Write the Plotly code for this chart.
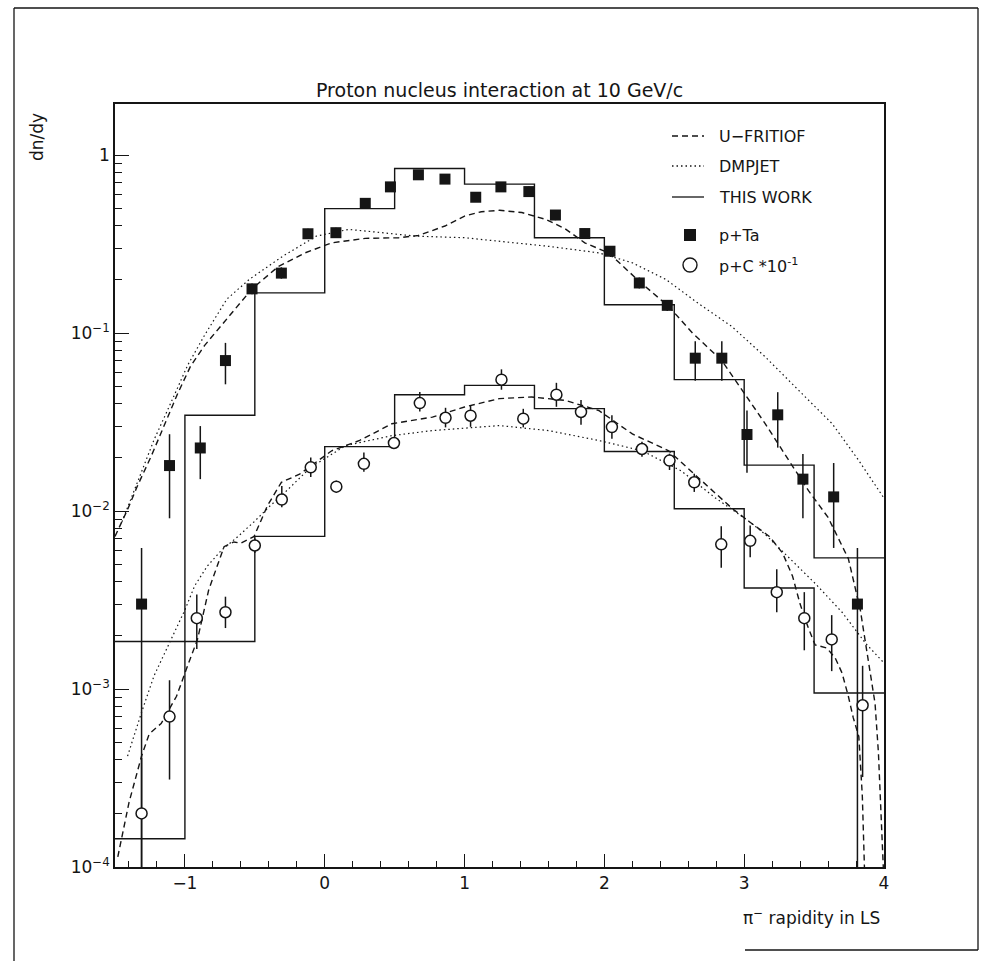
import plotly.graph_objects as go

# ---------------- data ----------------
ta_x = [-1.31, -1.11, -0.89, -0.71, -0.52, -0.31, -0.12, 0.08, 0.29, 0.47, 0.67, 0.86, 1.08, 1.26,
        1.46, 1.65, 1.86, 2.04, 2.25, 2.45, 2.65, 2.84, 3.02, 3.24, 3.42, 3.64, 3.81]
ta_y = [0.0030, 0.018, 0.0226, 0.070, 0.177, 0.217, 0.361, 0.366, 0.535, 0.662, 0.774, 0.732, 0.579, 0.662,
        0.623, 0.46, 0.362, 0.288, 0.191, 0.143, 0.0722, 0.0722, 0.0269, 0.0347, 0.0151, 0.012, 0.0030]
ta_hi = [0.0062, 0.027, 0.030, 0.088, 0.19, 0.234, 0.385, 0.39, 0.57, 0.70, 0.82, 0.78, 0.615, 0.70,
         0.665, 0.49, 0.385, 0.305, 0.205, 0.153, 0.090, 0.090, 0.0367, 0.0465, 0.0209, 0.0186, 0.0062]
ta_lo = [1e-6, 0.0091, 0.0151, 0.0515, 0.165, 0.202, 0.34, 0.345, 0.50, 0.625, 0.73, 0.69, 0.545, 0.625,
         0.585, 0.43, 0.34, 0.27, 0.178, 0.133, 0.054, 0.054, 0.0164, 0.0227, 0.0091, 0.0062, 1e-6]

c_x = [-1.31, -1.11, -0.915, -0.71, -0.50, -0.307, -0.10, 0.083, 0.28, 0.495, 0.68, 0.864, 1.043, 1.264,
       1.42, 1.657, 1.833, 2.054, 2.269, 2.466, 2.643, 2.836, 3.043, 3.233, 3.43, 3.626, 3.847]
c_y = [2.0e-4, 7.0e-4, 2.5e-3, 2.7e-3, 6.4e-3, 0.0116, 0.0176, 0.0137, 0.0184, 0.0241, 0.0404, 0.0334,
       0.0343, 0.0547, 0.033, 0.045, 0.036, 0.0296, 0.0223, 0.0192, 0.0145, 0.0065, 0.0068, 0.0035,
       0.0025, 0.0019, 8.1e-4]
c_hi = [4.1e-4, 1.12e-3, 3.4e-3, 3.3e-3, 7.0e-3, 0.0138, 0.0200, 0.0148, 0.0213, 0.026, 0.0466, 0.038,
        0.039, 0.0625, 0.0375, 0.0525, 0.042, 0.0345, 0.0245, 0.021, 0.0162, 0.0082, 0.0083, 0.0047,
        0.0035, 0.0026, 1.35e-3]
c_lo = [1e-6, 3.1e-4, 1.68e-3, 2.2e-3, 5.8e-3, 0.0105, 0.0155, 0.0127, 0.0166, 0.0223, 0.0362, 0.0295,
        0.0297, 0.048, 0.0295, 0.0385, 0.0305, 0.0255, 0.0202, 0.017, 0.0128, 0.0048, 0.0055, 0.0027,
        0.00165, 0.00126, 3.2e-4]

hist_edges = [-1.5, -1.0, -0.5, 0.0, 0.5, 1.0, 1.5, 2.0, 2.5, 3.0, 3.5, 4.0]
ta_hist = [1.85e-3, 0.0345, 0.168, 0.50, 0.84, 0.686, 0.343, 0.144, 0.0547, 0.0181, 5.45e-3]
c_hist = [1.44e-4, 1.85e-3, 7.2e-3, 0.023, 0.045, 0.0508, 0.0376, 0.0216, 0.0103, 3.69e-3, 9.5e-4]

fr_ta_x = [-1.5, -1.41, -1.34, -1.24, -1.15, -1.05, -0.96, -0.86, -0.72, -0.52, -0.33, -0.14, 0.05, 0.29,
           0.53, 0.67, 0.86, 1.0, 1.12, 1.25, 1.41, 1.58, 1.72, 1.86, 2.03, 2.25, 2.46, 2.63, 2.84, 3.0,
           3.15, 3.32, 3.46, 3.60, 3.745, 3.83, 3.90, 3.936, 3.96, 3.983, 3.995]
fr_ta_y = [0.0072, 0.0102, 0.0138, 0.0204, 0.030, 0.046, 0.065, 0.085, 0.115, 0.177, 0.237, 0.282, 0.321,
           0.34, 0.343, 0.353, 0.399, 0.454, 0.48, 0.489, 0.475, 0.435, 0.385, 0.321, 0.282, 0.195, 0.141,
           0.10, 0.070, 0.0456, 0.031, 0.0192, 0.013, 0.0092, 0.0054, 0.0028, 0.0013, 8.3e-4, 4.4e-4,
           1.5e-4, 1.0e-4]

dm_ta_x = [-1.45, -1.31, -1.22, -1.10, -0.98, -0.86, -0.70, -0.54, -0.30, -0.06, 0.17, 0.41, 0.65, 1.0,
           1.25, 1.6, 1.96, 2.2, 2.44, 2.67, 2.91, 3.15, 3.39, 3.63, 3.82, 4.0]
dm_ta_y = [0.0087, 0.0165, 0.0252, 0.0406, 0.066, 0.097, 0.155, 0.2, 0.27, 0.35, 0.382, 0.366, 0.35,
           0.343, 0.328, 0.307, 0.282, 0.248, 0.2, 0.147, 0.109, 0.0735, 0.0476, 0.0309, 0.0192, 0.0118]

fr_c_x = [-1.48, -1.40, -1.31, -1.255, -1.17, -1.06, -0.99, -0.91, -0.83, -0.755, -0.72, -0.65, -0.60,
          -0.505, -0.41, -0.31, -0.18, 0.05, 0.25, 0.48, 0.77, 1.0, 1.25, 1.48, 1.72, 1.96, 2.2, 2.46,
          2.67, 2.91, 3.037, 3.18, 3.275, 3.346, 3.40, 3.45, 3.507, 3.59, 3.65, 3.70, 3.745, 3.78, 3.82,
          3.845, 3.86]
fr_c_y = [1.14e-4, 2.3e-4, 4.2e-4, 5.6e-4, 6.4e-4, 9.1e-4, 1.29e-3, 1.9e-3, 3.6e-3, 5.3e-3, 6.3e-3,
          6.7e-3, 6.6e-3, 7.2e-3, 0.0107, 0.0145, 0.0161, 0.0218, 0.0249, 0.0309, 0.0337, 0.0384, 0.0428,
          0.0437, 0.0418, 0.0367, 0.0271, 0.0218, 0.0154, 0.0104, 0.0087, 0.0072, 0.0058, 0.0043, 0.0030,
          0.0023, 0.00177, 0.0017, 0.0015, 0.00123, 9.1e-4, 6.9e-4, 5.4e-4, 2.5e-4, 1.0e-4]

dm_c_x = [-1.41, -1.31, -1.22, -1.10, -1.0, -0.93, -0.84, -0.74, -0.62, -0.505, -0.39, -0.29, -0.10,
          0.15, 0.48, 0.77, 1.25, 1.6, 1.96, 2.27, 2.55, 2.79, 3.03, 3.15, 3.32, 3.51, 3.70, 3.87, 4.0]
dm_c_y = [4.2e-4, 7.4e-4, 1.19e-3, 1.9e-3, 2.78e-3, 3.8e-3, 4.9e-3, 6.0e-3, 7.2e-3, 8.7e-3, 0.0107,
          0.0126, 0.0176, 0.0233, 0.0265, 0.0283, 0.0302, 0.0283, 0.0249, 0.0218, 0.0168, 0.0119, 0.0088,
          0.0074, 0.0055, 0.0039, 0.0027, 0.0018, 0.0014]

x_tickvals = [-1, 0, 1, 2, 3, 4]
y_tickvals = [1e-4, 1e-3, 1e-2, 1e-1, 1]
y_ticktext = ["10<sup>−4</sup>", "10<sup>−3</sup>", "10<sup>−2</sup>", "10<sup>−1</sup>", "1"]

title_text = "Proton nucleus interaction at 10 GeV/c"
xlabel = "π<sup>−</sup> rapidity in LS"
ylabel = "dn/dy"
legend_lines = [("U−FRITIOF", "dash"), ("DMPJET", "dot"), ("THIS WORK", "solid")]
legend_marks = [("p+Ta", "square"), ("p+C *10<sup>-1</sup>", "circle")]

# ---------------- layout geometry ----------------
W, H = 984, 961
L, R, T, B = 115, 884, 104, 867
FONT = "DejaVu Sans"
INK = "#151515"


def px(x):
    return (x - L) / (R - L)


def py(y):
    return (B - y) / (B - T)


def err(vals, hi, lo):
    up = [h - v for v, h in zip(vals, hi)]
    dn = [v - l for v, l in zip(vals, lo)]
    return up, dn


fig = go.Figure()

dash_style = "6px,4px"
dot_style = "1.5px,3px"

for xs, ys in [(fr_ta_x, fr_ta_y), (fr_c_x, fr_c_y)]:
    fig.add_trace(go.Scatter(x=xs, y=ys, mode="lines", line=dict(color=INK, width=1.4, dash=dash_style),
                             showlegend=False, hoverinfo="skip"))
for xs, ys in [(dm_ta_x, dm_ta_y), (dm_c_x, dm_c_y)]:
    fig.add_trace(go.Scatter(x=xs, y=ys, mode="lines", line=dict(color=INK, width=1.2, dash=dot_style),
                             showlegend=False, hoverinfo="skip"))
for hv in [ta_hist, c_hist]:
    fig.add_trace(go.Scatter(x=hist_edges, y=hv + [hv[-1]], mode="lines", line_shape="hv",
                             line=dict(color=INK, width=1.4), showlegend=False, hoverinfo="skip"))

up, dn = err(ta_y, ta_hi, ta_lo)
fig.add_trace(go.Scatter(x=ta_x, y=ta_y, mode="markers",
                         marker=dict(symbol="square", size=11, color=INK, line=dict(width=0)),
                         error_y=dict(type="data", array=up, arrayminus=dn, color=INK, thickness=1.5, width=0),
                         showlegend=False))
up, dn = err(c_y, c_hi, c_lo)
fig.add_trace(go.Scatter(x=c_x, y=c_y, mode="markers",
                         marker=dict(symbol="circle", size=11, color="white", line=dict(width=1.5, color=INK)),
                         error_y=dict(type="data", array=up, arrayminus=dn, color=INK, thickness=1.5, width=0),
                         showlegend=False))

shapes = []
annotations = []

# outer frame of the scanned figure
for (x0, y0, x1, y1) in [(14, 8, 978, 8), (14, 8, 14, 961), (978, 8, 978, 950), (745, 950, 978, 950)]:
    shapes.append(dict(type="line", xref="paper", yref="paper", x0=px(x0), y0=py(y0), x1=px(x1), y1=py(y1),
                       line=dict(color=INK, width=1.3)))

# legend
rows_y = [136, 166, 197, 235, 265]
for i, (name, ds) in enumerate(legend_lines):
    yy = py(rows_y[i])
    dash = {"dash": dash_style, "dot": dot_style, "solid": "solid"}[ds]
    shapes.append(dict(type="line", xref="paper", yref="paper", x0=px(672), x1=px(704), y0=yy, y1=yy,
                       line=dict(color=INK, width=1.3, dash=dash)))
    annotations.append(dict(text=name, xref="paper", yref="paper", x=px(717), y=yy, xanchor="left",
                            yanchor="middle", showarrow=False, font=dict(size=16, family=FONT, color=INK)))
for j, (name, sym) in enumerate(legend_marks):
    yc = rows_y[3 + j]
    if sym == "square":
        shapes.append(dict(type="rect", xref="paper", yref="paper", x0=px(684), x1=px(696), y0=py(yc - 6),
                           y1=py(yc + 6), fillcolor=INK, line=dict(width=0)))
    else:
        shapes.append(dict(type="circle", xref="paper", yref="paper", x0=px(683), x1=px(697), y0=py(yc - 7),
                           y1=py(yc + 7), fillcolor="white", line=dict(color=INK, width=1.4)))
    annotations.append(dict(text=name, xref="paper", yref="paper", x=px(717), y=py(yc), xanchor="left",
                            yanchor="middle", showarrow=False, font=dict(size=16, family=FONT, color=INK)))

annotations.append(dict(text=title_text, xref="paper", yref="paper", x=0.5, y=py(90), xanchor="center",
                        yanchor="middle", showarrow=False, font=dict(size=19, family=FONT, color=INK)))
annotations.append(dict(text=xlabel, xref="paper", yref="paper", x=px(882), y=py(917), xanchor="right",
                        yanchor="middle", showarrow=False, font=dict(size=17, family=FONT, color=INK)))
annotations.append(dict(text=ylabel, xref="paper", yref="paper", x=px(37), y=py(137), xanchor="center",
                        yanchor="middle", textangle=-90, showarrow=False,
                        font=dict(size=17, family=FONT, color=INK)))

fig.update_layout(
    width=W, height=H,
    margin=dict(l=L, r=W - R, t=T, b=H - B),
    paper_bgcolor="white", plot_bgcolor="white",
    shapes=shapes, annotations=annotations,
    font=dict(family=FONT, size=17, color=INK),
)
fig.update_xaxes(range=[-1.5, 4], tickvals=x_tickvals, ticks="inside", ticklen=13, tickwidth=1.3,
                 tickcolor=INK, showline=True, linecolor=INK, linewidth=1.5, mirror=True, showgrid=False,
                 zeroline=False, tickfont=dict(size=17, family=FONT, color=INK),
                 minor=dict(dtick=0.2, tick0=0, ticks="inside", ticklen=6, tickcolor=INK, tickwidth=1.2,
                            showgrid=False))
fig.update_yaxes(type="log", range=[-4, 0.2865], tickvals=y_tickvals, ticktext=y_ticktext, ticks="inside",
                 ticklen=14, tickwidth=1.3, tickcolor=INK, showline=True, linecolor=INK, linewidth=1.5,
                 mirror=True, showgrid=False, zeroline=False, tickfont=dict(size=17, family=FONT, color=INK),
                 minor=dict(dtick="D1", ticks="inside", ticklen=7, tickcolor=INK, tickwidth=1.2,
                            showgrid=False))

fig.write_html("out.html")
